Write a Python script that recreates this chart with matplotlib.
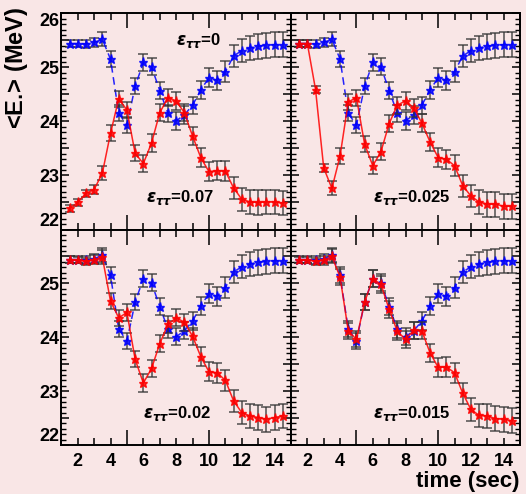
import matplotlib
matplotlib.use("Agg")
import matplotlib.pyplot as plt
from matplotlib.ticker import FixedLocator, FuncFormatter

plt.rcParams['font.family'] = ['Liberation Sans', 'DejaVu Sans']
plt.rcParams['mathtext.fontset'] = 'custom'
plt.rcParams['mathtext.it'] = 'DejaVu Sans:italic:bold'
plt.rcParams['mathtext.rm'] = 'DejaVu Sans:bold'
plt.rcParams['mathtext.bf'] = 'DejaVu Sans:bold'

# time bins (sec)
time_sec = [1.5, 2.0, 2.5, 3.0, 3.5, 4.0, 4.5, 5.0, 5.5, 6.0, 6.5, 7.0, 7.5, 8.0,
            8.5, 9.0, 9.5, 10.0, 10.5, 11.0, 11.5, 12.0, 12.5, 13.0, 13.5, 14.0, 14.5]

# mean energy <E> (MeV), standard case eps_tautau = 0
e_eps0 = [25.44, 25.44, 25.43, 25.46, 25.52, 25.15, 24.15, 23.93, 24.65, 25.09,
          25.01, 24.57, 24.15, 24.01, 24.12, 24.30, 24.58, 24.81, 24.76, 24.92,
          25.21, 25.31, 25.36, 25.39, 25.41, 25.42, 25.42]

# non-standard interaction cases
e_eps007 = [22.39, 22.50, 22.67, 22.74, 23.04, 23.78, 24.42, 24.21, 23.41, 23.22,
            23.60, 24.16, 24.44, 24.38, 24.16, 23.73, 23.33, 23.07, 23.09, 23.08,
            22.77, 22.56, 22.51, 22.50, 22.51, 22.51, 22.49]
e_eps0025 = [25.44, 25.44, 24.59, 23.14, 22.76, 23.36, 24.36, 24.44, 23.58, 23.18,
             23.44, 23.96, 24.30, 24.38, 24.25, 23.97, 23.62, 23.33, 23.30, 23.18,
             22.81, 22.62, 22.51, 22.47, 22.47, 22.43, 22.43]
e_eps002 = [25.44, 25.43, 25.41, 25.44, 25.49, 24.67, 24.36, 24.46, 23.59, 23.15,
            23.42, 23.88, 24.24, 24.36, 24.28, 24.02, 23.64, 23.36, 23.34, 23.20,
            22.82, 22.60, 22.54, 22.51, 22.48, 22.51, 22.54]
e_eps0015 = [25.43, 25.43, 25.41, 25.43, 25.50, 25.12, 24.12, 23.96, 24.65, 25.09,
             24.98, 24.52, 24.11, 23.96, 24.13, 24.12, 23.71, 23.44, 23.45, 23.34,
             22.96, 22.66, 22.55, 22.54, 22.49, 22.48, 22.45]

# statistical uncertainty per time bin (MeV)
e_err = [0.06, 0.06, 0.07, 0.08, 0.13, 0.15, 0.15, 0.15, 0.15, 0.16,
         0.16, 0.16, 0.16, 0.16, 0.16, 0.16, 0.17, 0.18, 0.18, 0.19,
         0.20, 0.21, 0.22, 0.23, 0.23, 0.23, 0.23]

panel_series = [e_eps007, e_eps0025, e_eps002, e_eps0015]
panel_labels = [r"$\varepsilon_{\tau\tau}$=0.07", r"$\varepsilon_{\tau\tau}$=0.025",
                r"$\varepsilon_{\tau\tau}$=0.02", r"$\varepsilon_{\tau\tau}$=0.015"]
std_label = r"$\varepsilon_{\tau\tau}$=0"
x_ticklabels = [2, 4, 6, 8, 10, 12, 14]

bg = '#f9e6e6'
W, H = 526, 494
fig = plt.figure(figsize=(W / 100, H / 100), dpi=100, facecolor=bg)

xl, xm, xr = 61.3 / W, 291.0 / W, 520.0 / W
yt, ym, yb = 1 - 13.3 / H, 1 - 229.5 / H, 1 - 445.0 / H
rects = [(xl, ym, xm - xl, yt - ym), (xm, ym, xr - xm, yt - ym),
         (xl, yb, xm - xl, ym - yb), (xm, yb, xr - xm, ym - yb)]
label_pos = [(0.517, 0.146), (0.528, 0.150), (0.504, 0.144), (0.528, 0.148)]

x_major = list(range(1, 16))
y_major = [22 + 0.5 * k for k in range(9)]
y_minor = [round(22 + 0.1 * k, 1) for k in range(41)]

for i, (rect, red, lab, pos) in enumerate(zip(rects, panel_series, panel_labels, label_pos)):
    ax = fig.add_axes(rect)
    ax.set_facecolor(bg)
    ax.set_xlim(1, 15)
    ax.set_ylim(22, 26)

    err_kw = dict(ecolor='#333333', elinewidth=1.1, capsize=3.5, capthick=1.1, alpha=0.85)
    ax.errorbar(time_sec, e_eps0, yerr=e_err, color='#0000ff', ls=(0, (5, 3)), lw=1.1,
                marker='*', ms=6.5, mec='#0000ff', zorder=3, **err_kw)
    ax.errorbar(time_sec, red, yerr=e_err, color='#ff0000', ls='-', lw=1.1,
                marker='*', ms=6.5, mec='#ff0000', zorder=4, **err_kw)

    for sp in ax.spines.values():
        sp.set_linewidth(1.4)
        sp.set_color('black')

    top = i < 2
    left = i % 2 == 0

    # x ticks: every second, longer ticks at 5 and 10
    ax.xaxis.set_major_locator(FixedLocator(x_major))
    if top:
        ax.xaxis.set_major_formatter(FuncFormatter(lambda v, p: ''))
    else:
        ax.xaxis.set_major_formatter(FuncFormatter(
            lambda v, p: str(int(round(v))) if int(round(v)) in x_ticklabels else ''))
    ax.tick_params(axis='x', which='major', direction='in', length=5, width=1.1,
                   top=True, bottom=True, labelsize=13, pad=5.5)
    for v, t in zip(x_major, ax.xaxis.get_major_ticks(len(x_major))):
        t.label1.set_fontweight('bold')
        if v in (5, 10, 15):
            t.tick1line.set_markersize(11)
            t.tick2line.set_markersize(11)

    # y ticks
    ax.yaxis.set_major_locator(FixedLocator(y_major))
    ax.yaxis.set_minor_locator(FixedLocator(y_minor))
    ax.tick_params(axis='y', which='major', direction='in', length=6, width=1.1,
                   left=True, right=True, labelsize=13, pad=1.5)
    ax.tick_params(axis='y', which='minor', direction='in', length=3.6, width=1.0,
                   left=True, right=True)
    if left:
        maxlab = 26 if top else 25
        ax.yaxis.set_major_formatter(FuncFormatter(
            lambda v, p, m=maxlab: str(int(round(v)))
            if abs(v - round(v)) < 1e-6 and v <= m + 1e-6 else ''))
        for v, t in zip(y_major, ax.yaxis.get_major_ticks(len(y_major))):
            t.label1.set_fontweight('bold')
            if abs(v - 22) < 1e-6:
                t.label1.set_verticalalignment('bottom')
            elif abs(v - 26) < 1e-6:
                t.label1.set_verticalalignment('top')
    else:
        ax.yaxis.set_major_formatter(FuncFormatter(lambda v, p: ''))

    ax.text(pos[0], pos[1], lab, transform=ax.transAxes, ha='center', va='center',
            fontsize=12, fontweight='bold')
    if i == 0:
        ax.text(0.595, 0.873, std_label, transform=ax.transAxes, ha='center',
                va='center', fontsize=12, fontweight='bold')

fig.text(17 / W, 1 - 7 / H, r"<E$_{\bullet}$> (MeV)", rotation=90, ha='center',
         va='top', fontsize=17, fontweight='bold')
fig.text(520 / W, 1 - 481.7 / H, "time (sec)", ha='right', va='center', fontsize=16,
         fontweight='bold')

fig.savefig("out.png", dpi=100, facecolor=bg)
